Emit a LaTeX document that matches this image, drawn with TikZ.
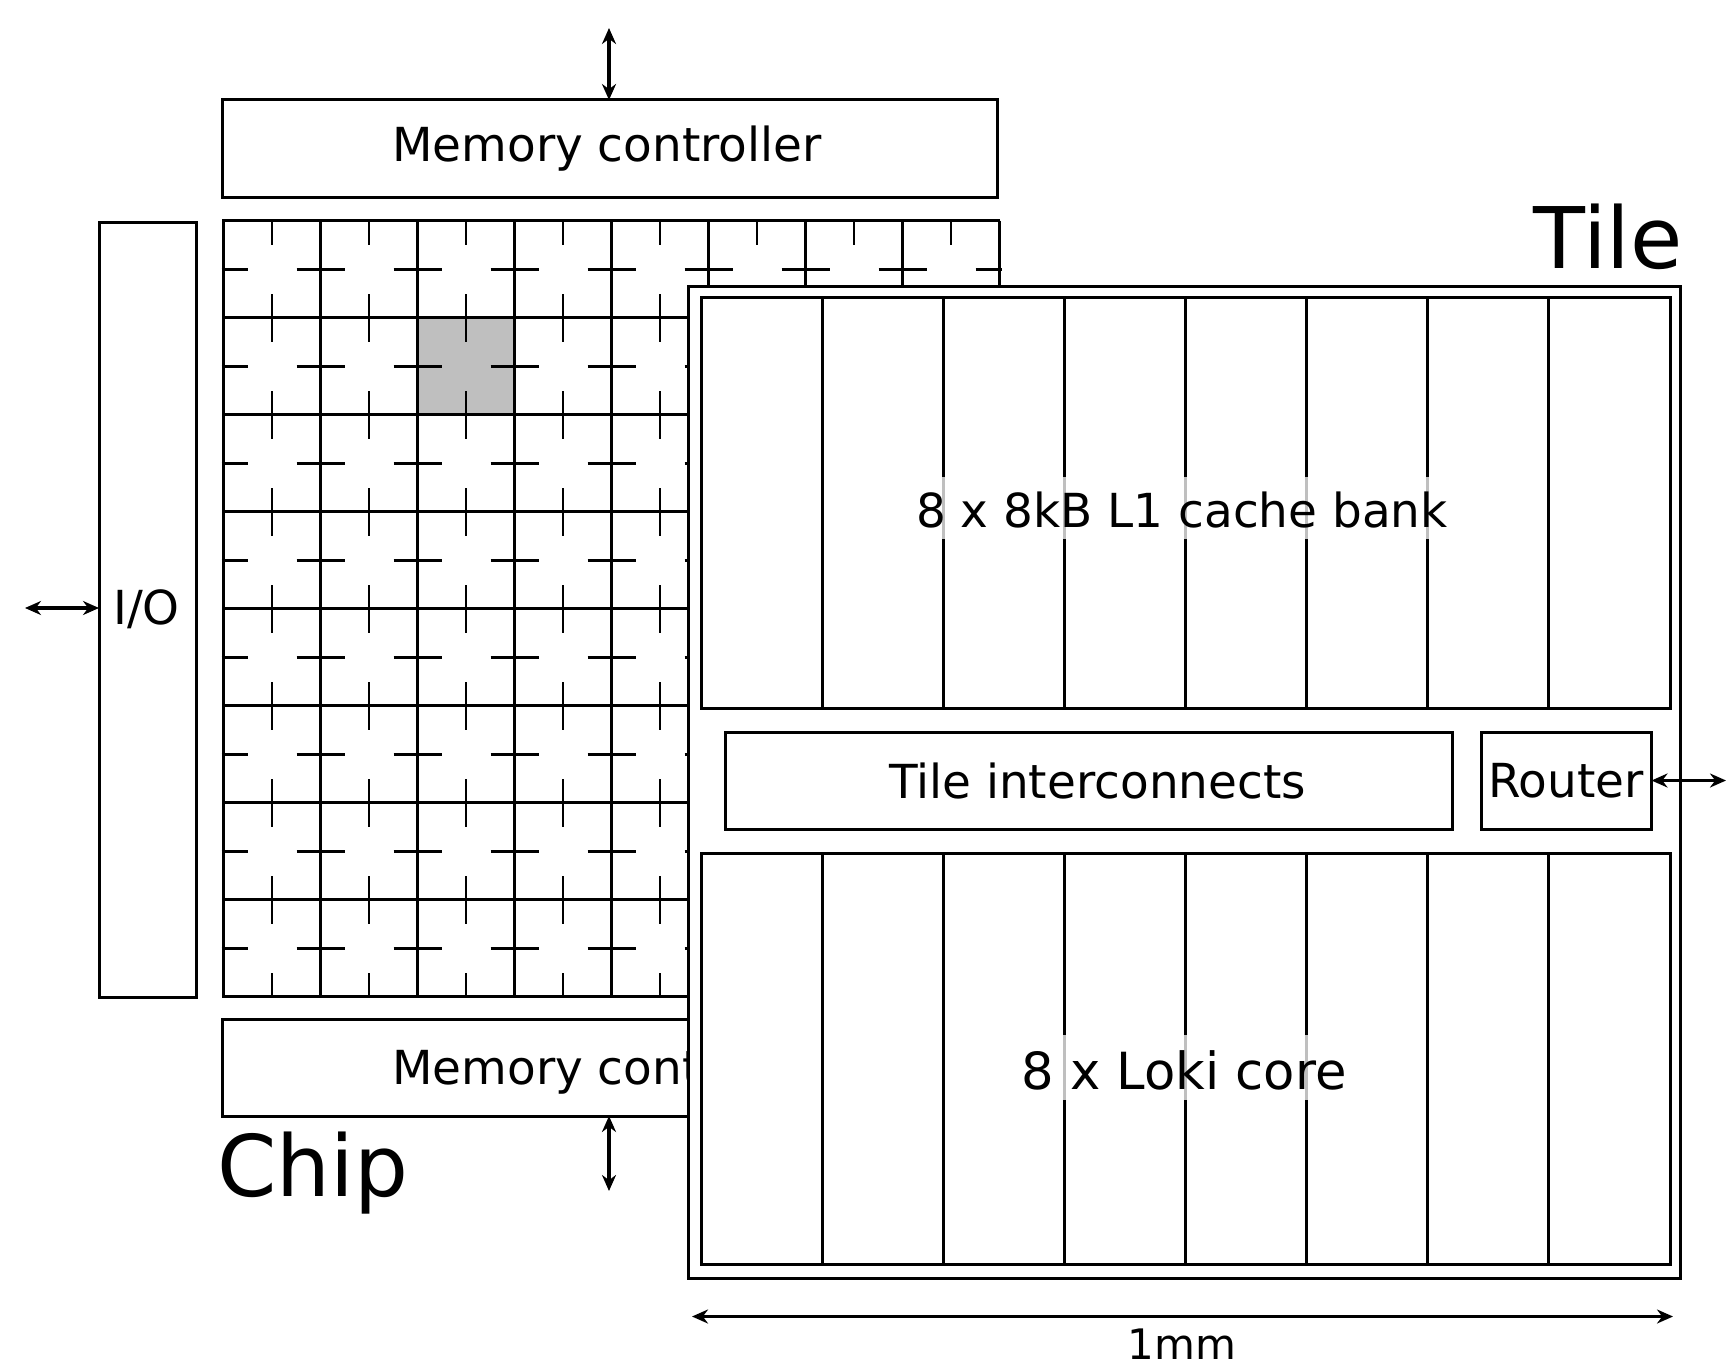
\documentclass[tikz,border=0pt]{standalone}
\usepackage{fontspec}
\setmainfont{DejaVu Sans}
\usetikzlibrary{arrows.meta}
\tikzset{
  x=1pt,y=-1pt,
  every path/.style={line width=3.1pt},
  boxn/.style={draw=black,fill=white,rectangle,inner sep=0pt,outer sep=0pt,line width=3pt},
  lab/.style={anchor=base,inner sep=0pt,font=\fontsize{46.9}{47}\selectfont},
  big/.style={inner sep=0pt,font=\fontsize{85}{85}\selectfont},
  band/.style={lab,fill=white,fill opacity=.75,text opacity=1,text height=50pt,text depth=12pt},
  dbl/.style={{Stealth[length=16pt,width=14pt]}-{Stealth[length=16pt,width=14pt]}},
  tk/.style={line width=2.9pt}
}
\begin{document}
\begin{tikzpicture}
\useasboundingbox (0,0) rectangle (1726,1362);
% memory controllers and I/O
\node[boxn,minimum width=775pt,minimum height=97pt] (memt) at (609.5,148.5) {};
\node[lab] (memtl) at (607,161.5) {Memory controller};
\node[boxn,minimum width=775pt,minimum height=97pt] (memb) at (609.5,1067.5) {};
\node[lab] (membl) at (607,1084) {Memory controller};
\node[boxn,minimum width=97pt,minimum height=775pt] (io) at (147.5,609.5) {};
\node[lab] (iol) at (146.5,624) {I/O};
\coordinate (ta) at (609,28);
\coordinate (ba) at (609,1191);
\coordinate (la) at (25,608);
\draw[dbl] (ta) -- (memt.north -| ta);
\draw[dbl] (memb.south -| ba) -- (ba);
\draw[dbl] (la) -- (io.west |- la);
% chip grid
\fill[black!25] (417.5,317.7) rectangle (514.5,414.7);
\foreach \i in {0,...,8} {
  \draw ({223.5+97*\i},220.7) -- ({223.5+97*\i},996.2);
  \draw (222,{220.7+97*\i-.5}) -- (1000,{220.7+97*\i-.5});
}
\foreach \i in {0,...,7} \foreach \j in {0,...,7} {
  \pgfmathsetmacro{\cx}{223.5+97*\i}
  \pgfmathsetmacro{\cy}{220.7+97*\j}
  \draw[tk] (\cx+48.5,\cy) -- +(0,24);
  \draw[tk] (\cx+48.5,\cy+97) -- +(0,-24);
  \draw[tk] (\cx-2,\cy+48.5) -- (\cx+24,\cy+48.5);
  \draw[tk] (\cx+73,\cy+48.5) -- (\cx+99,\cy+48.5);
}
\node[big,anchor=base west] (chip) at (216,1196) {Chip};
% tile
\node[boxn,minimum width=992pt,minimum height=992pt] (tile) at (1184,782) {};
\node[big,anchor=base east] (tilel) at (1684,268) {Tile};
\node[boxn,minimum width=969pt,minimum height=411pt] (cache) at (1186,502.5) {};
\node[boxn,minimum width=969pt,minimum height=411pt] (core) at (1186,1058.5) {};
\foreach \i in {1,...,7} {
  \draw (701.5+121*\i,297) -- (701.5+121*\i,708);
  \draw (701.5+121*\i,853) -- (701.5+121*\i,1264);
}
\node[band] (cachel) at (1182,527) {8 x 8kB L1 cache bank};
\node[band,font=\fontsize{51.2}{52}\selectfont,text height=54pt,text depth=11pt] (corel) at (1184,1089) {8 x Loki core};
\node[boxn,minimum width=727pt,minimum height=97pt] (inter) at (1089,780.5) {};
\node[lab] (interl) at (1097.5,798) {Tile interconnects};
\node[boxn,minimum width=170pt,minimum height=97pt] (router) at (1566.5,780.5) {};
\node[lab] (routerl) at (1566,797) {Router};
\coordinate (ra) at (1726,780.5);
\draw[dbl] (router.east) -- (ra);
\coordinate (d1) at (692,1316.5);
\coordinate (d2) at (1673,1316.5);
\draw[dbl] (d1) -- (d2);
\node[lab,font=\fontsize{42}{42}\selectfont] (mm) at (1182,1359) {1mm};
\end{tikzpicture}
\end{document}
